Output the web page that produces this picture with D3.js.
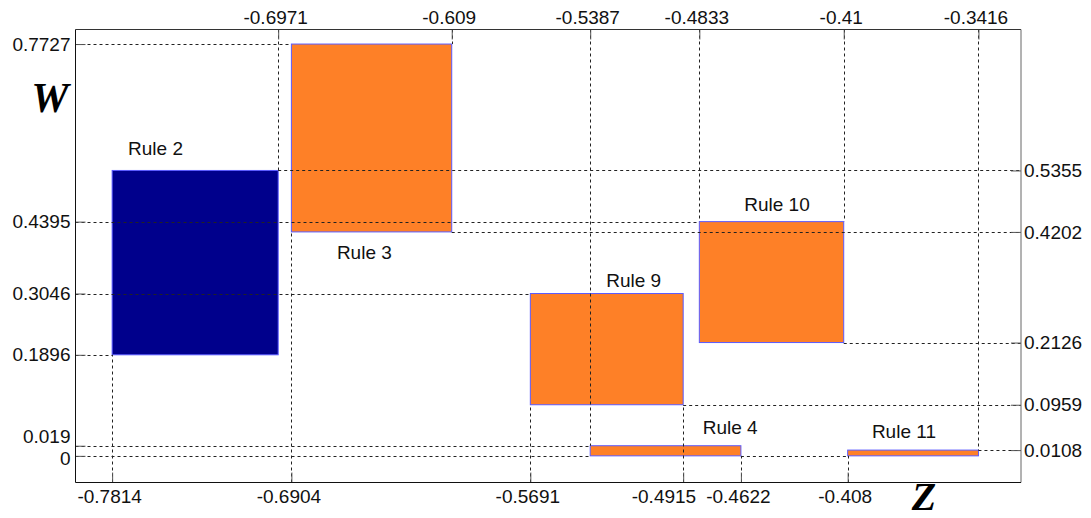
<!DOCTYPE html>
<html>
<head>
<meta charset="utf-8">
<script src="https://cdn.jsdelivr.net/npm/d3@7"></script>
<style>
  html, body { margin: 0; padding: 0; background: #fff; }
  svg { display: block; }
</style>
</head>
<body>
<svg id="chart" width="1091" height="518"></svg>
<script>
// ---- data ----
const ruleNames  = ["Rule 2", "Rule 3", "Rule 9", "Rule 10", "Rule 4", "Rule 11"];
const ruleZ1     = [-0.7814, -0.6904, -0.5691, -0.4833, -0.5387, -0.408];
const ruleZ2     = [-0.6971, -0.609, -0.4915, -0.41, -0.4622, -0.3416];
const ruleW1     = [0.1896, 0.4202, 0.0959, 0.2126, 0, 0];
const ruleW2     = [0.5355, 0.7727, 0.3046, 0.4395, 0.019, 0.0108];
const ruleKind   = ["dark", "light", "light", "light", "light", "light"];
const labelZ     = [-0.7733, -0.6673, -0.5306, -0.4605, -0.4816, -0.3957];
const labelW     = [0.564, 0.369, 0.3164, 0.4595, 0.0401, 0.0338];

const bottomTicks = [-0.7814, -0.6904, -0.5691, -0.4915, -0.4622, -0.408];
const topTicks    = [-0.6971, -0.609, -0.5387, -0.4833, -0.41, -0.3416];
const leftTicks   = [0.7727, 0.4395, 0.3046, 0.1896, 0.019, 0];
const rightTicks  = [0.5355, 0.4202, 0.2126, 0.0959, 0.0108];

const zDomain = [-0.8, -0.32];
const wDomain = [-0.05, 0.8];

// guide lines: horizontal [w, z1, z2], vertical [z, w1, w2]
const hGuides = [
  [0.7727, -0.8, -0.6904], [0.5355, -0.6971, -0.32], [0.4395, -0.8, -0.4833],
  [0.4202, -0.609, -0.32], [0.3046, -0.8, -0.5691], [0.2126, -0.41, -0.32],
  [0.1896, -0.8, -0.7814], [0.0959, -0.4915, -0.32], [0.019, -0.8, -0.5387],
  [0, -0.8, -0.5387], [0, -0.4622, -0.408], [0.0108, -0.3416, -0.32]
];
const vGuides = [
  [-0.7814, -0.05, 0.1896], [-0.6971, 0.8, 0.5355], [-0.6904, -0.05, 0.4202],
  [-0.609, 0.8, 0.7727], [-0.5691, -0.05, 0.0959], [-0.5387, 0.8, 0.019],
  [-0.4915, -0.05, 0.0959], [-0.4833, 0.8, 0.4395], [-0.4622, -0.05, 0],
  [-0.41, 0.8, 0.4395], [-0.408, -0.05, 0], [-0.3416, 0.8, 0.0108]
];

// ---- layout ----
const L = 75.5, R = 1021, T = 29.5, B = 482.5;
const SANS = '"Liberation Sans", Arial, sans-serif';
const SERIF = '"Liberation Serif", "Times New Roman", serif';
const x = d3.scaleLinear().domain(zDomain).range([L, R]);
const y = d3.scaleLinear().domain(wDomain).range([B, T]);
const svg = d3.select("#chart");
const colors = { dark: "#00008c", light: "#fe8027" };

// rectangles
const rules = ruleNames.map((n, i) => ({ n, z1: ruleZ1[i], z2: ruleZ2[i], w1: ruleW1[i], w2: ruleW2[i], k: ruleKind[i], lz: labelZ[i], lw: labelW[i] }));
svg.append("g").selectAll("rect").data(rules).join("rect")
  .attr("x", d => x(d.z1)).attr("y", d => y(d.w2))
  .attr("width", d => x(d.z2) - x(d.z1)).attr("height", d => y(d.w1) - y(d.w2))
  .attr("fill", d => colors[d.k]).attr("stroke", "#5a5aff").attr("stroke-width", 1);

// guides
const g = svg.append("g").attr("stroke", "#222").attr("stroke-width", 1).attr("stroke-dasharray", "3,3");
g.selectAll("line.h").data(hGuides).join("line").attr("class", "h")
  .attr("x1", d => x(d[1])).attr("x2", d => x(d[2]))
  .attr("y1", d => Math.round(y(d[0])) + 0.5).attr("y2", d => Math.round(y(d[0])) + 0.5);
g.selectAll("line.v").data(vGuides).join("line").attr("class", "v")
  .attr("x1", d => Math.round(x(d[0])) + 0.5).attr("x2", d => Math.round(x(d[0])) + 0.5)
  .attr("y1", d => y(d[1])).attr("y2", d => y(d[2]));

// axes
const fmt = d => String(d);
const fs = "19px";
function styleAxis(sel) {
  sel.attr("font-size", null).attr("font-family", null);
  sel.select(".domain").remove();
  sel.selectAll(".tick line").attr("stroke", "#555");
  sel.selectAll(".tick text").style("font-size", fs).style("font-family", SANS).attr("fill", "#111");
}
const gb = svg.append("g").attr("transform", `translate(0,${B})`)
  .call(d3.axisBottom(x).tickValues(bottomTicks).tickFormat(fmt).tickSizeInner(-10).tickSizeOuter(0).tickPadding(7))
  .call(styleAxis).call(s => s.selectAll(".tick text").attr("dx", "-3"));
const gt = svg.append("g").attr("transform", `translate(0,${T})`)
  .call(d3.axisTop(x).tickValues(topTicks).tickFormat(fmt).tickSizeInner(-10).tickSizeOuter(0).tickPadding(5.5))
  .call(styleAxis).call(s => s.selectAll(".tick text").attr("dx", "-3"));
const gl = svg.append("g").attr("transform", `translate(${L},0)`)
  .call(d3.axisLeft(y).tickValues(leftTicks).tickFormat(fmt).tickSizeInner(-10).tickSizeOuter(0).tickPadding(5))
  .call(styleAxis);
svg.append("g").attr("transform", `translate(${R},0)`)
  .call(d3.axisRight(y).tickValues(rightTicks).tickFormat(fmt).tickSizeInner(-10).tickSizeOuter(0).tickPadding(3))
  .call(styleAxis);

// resolve overlapping tick labels
function resolveX(axisG, gap) {
  const texts = axisG.selectAll(".tick text").nodes()
    .map(n => ({ n, b: n.getBoundingClientRect() })).sort((a, b) => a.b.left - b.b.left);
  for (let i = texts.length - 2; i >= 0; i--) {
    const a = texts[i], c = texts[i + 1];
    const over = a.b.right + gap - c.b.left;
    if (over > 0) {
      const dx = parseFloat(a.n.getAttribute("dx") || 0) - over;
      a.n.setAttribute("dx", dx);
      a.b = a.n.getBoundingClientRect();
    }
  }
}
function resolveY(axisG, gap) {
  const texts = axisG.selectAll(".tick text").nodes()
    .map(n => ({ n, b: n.getBoundingClientRect() })).sort((a, b) => b.b.top - a.b.top);
  for (let i = 1; i < texts.length; i++) {
    const lower = texts[i - 1], upper = texts[i];
    const over = upper.b.bottom + gap - lower.b.top;
    if (over > 0) {
      const up = over * 0.8, down = over - up;
      upper.n.setAttribute("transform", `translate(0,${-up})`);
      const prev = lower.n.getAttribute("transform");
      if (!prev) lower.n.setAttribute("transform", `translate(0,${down})`);
      upper.b = upper.n.getBoundingClientRect();
    }
  }
}
resolveX(gb, 10);
resolveY(gl, 0.5);

// frame
svg.append("line").attr("x1", L).attr("x2", R).attr("y1", T).attr("y2", T).attr("stroke", "#333");
svg.append("line").attr("x1", R).attr("x2", R).attr("y1", T).attr("y2", B).attr("stroke", "#666");
svg.append("line").attr("x1", L).attr("x2", L).attr("y1", T).attr("y2", B).attr("stroke", "#111");
svg.append("line").attr("x1", L).attr("x2", R).attr("y1", B).attr("y2", B).attr("stroke", "#111");

// rule labels
svg.append("g").selectAll("text").data(rules).join("text")
  .attr("x", d => x(d.lz)).attr("y", d => y(d.lw))
  .style("font-family", SANS).style("font-size", "19px").attr("fill", "#111").text(d => d.n);

// axis titles
svg.append("text").attr("x", 50).attr("y", 112).attr("text-anchor", "middle")
  .style("font-family", SERIF).style("font-weight", "bold").style("font-style", "italic")
  .style("font-size", "42px").attr("fill", "#000").text("W");
svg.append("text").attr("x", 924).attr("y", 510).attr("text-anchor", "middle")
  .style("font-family", SERIF).style("font-weight", "bold").style("font-style", "italic")
  .style("font-size", "40px").attr("fill", "#000").text("Z");
</script>
</body>
</html>
